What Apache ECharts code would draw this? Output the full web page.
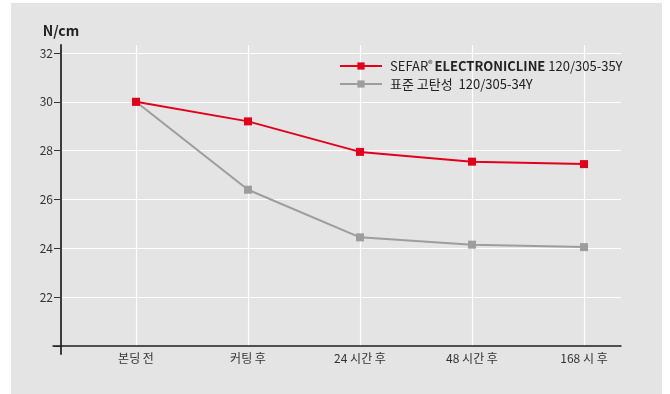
<!DOCTYPE html>
<html>
<head>
<meta charset="utf-8">
<script src="https://cdn.jsdelivr.net/npm/echarts@6/dist/echarts.min.js"></script>
<style>
  html, body { margin: 0; padding: 0; background: #ffffff; }
  #chart { width: 670px; height: 394px; }
</style>
</head>
<body>
<div id="chart"></div>
<script>
// Peel strength over time after bonding (N/cm)
const categories = ['본딩 전', '커팅 후', '24 시간 후', '48 시간 후', '168 시 후'];
const electroniclineValues = [30.0, 29.2, 27.95, 27.55, 27.45];
const standardValues = [30.0, 26.4, 24.45, 24.15, 24.05];
const seriesNames = ['SEFAR® ELECTRONICLINE 120/305-35Y', '표준 고탄성  120/305-34Y'];
const yTicks = { min: 20, max: 32, interval: 2 };

const FONT = '"Liberation Sans Narrow", "Noto Sans CJK KR", "Liberation Sans", sans-serif';
const TEXT = '#222222';
const RED = '#e3001b';
const GREY = '#9d9d9d';

const chart = echarts.init(document.getElementById('chart'), null, { renderer: 'canvas' });

// the y-axis top overshoots the 32 line by a few pixels; keep the same scale
const overshoot = 8 / ((346 - 53) / (yTicks.max - yTicks.min));

const option = {
  animation: false,
  textStyle: { fontFamily: FONT },
  graphic: [{
    type: 'rect', z: -10, silent: true,
    shape: { x: 11, y: 3, width: 651, height: 391 },
    style: { fill: '#e3e4e3' }
  }],
  grid: [
    // 0: vertical axis line
    { left: 61, right: 49, top: 45, bottom: 40 },
    // 1: horizontal axis line
    { left: 53, right: 49, top: 45, bottom: 48 },
    // 2: value labels, ticks, horizontal grid
    { left: 61, right: 49, top: 53, bottom: 48 },
    // 3: categories and series
    { left: 136, right: 86, top: 45, bottom: 48 }
  ],
  xAxis: [
    { gridIndex: 0, type: 'value', show: false },
    { gridIndex: 1, type: 'value', min: 0, max: 1,
      axisLine: { show: true, lineStyle: { color: '#1e1e1e', width: 1.5 } },
      axisTick: { show: false }, axisLabel: { show: false }, splitLine: { show: false }, z: 5 },
    { gridIndex: 2, type: 'value', show: false },
    { gridIndex: 3, type: 'category', data: categories, boundaryGap: false,
      axisLine: { show: false }, axisTick: { show: false },
      axisLabel: { margin: 6, fontSize: 12, color: '#333333', fontFamily: FONT },
      splitLine: { show: true, lineStyle: { color: '#ffffff', width: 1.2 } } }
  ],
  yAxis: [
    { gridIndex: 0, type: 'value', min: 0, max: 1,
      axisLine: { show: true, lineStyle: { color: '#3c3c3c', width: 2 } },
      axisTick: { show: false }, axisLabel: { show: false }, splitLine: { show: false }, z: 5 },
    { gridIndex: 1, type: 'value', show: false },
    { gridIndex: 2, type: 'value', min: yTicks.min, max: yTicks.max, interval: yTicks.interval,
      name: 'N/cm', nameLocation: 'end', nameGap: 15,
      nameTextStyle: { fontSize: 14, fontWeight: 'bold', color: TEXT, fontFamily: FONT, align: 'center' },
      axisLine: { show: false },
      axisTick: { show: true, length: 7, lineStyle: { color: '#333333', width: 1 } },
      axisLabel: { margin: 8, fontSize: 12, color: '#333333', fontFamily: FONT,
        formatter: v => (v === yTicks.min ? '' : String(v)) },
      splitLine: { show: true, showMinLine: false, lineStyle: { color: '#ffffff', width: 1 } } },
    { gridIndex: 3, type: 'value', min: yTicks.min, max: yTicks.max + overshoot, show: false }
  ],
  legend: {
    orient: 'vertical', left: 339, top: 59, padding: 0,
    itemWidth: 42, itemHeight: 9, itemGap: 5,
    data: seriesNames,
    textStyle: {
      fontSize: 13, color: TEXT, fontFamily: FONT,
      rich: {
        n: { fontSize: 13, color: TEXT, fontFamily: FONT, padding: [0, 0, 0, 3] },
        r: { fontSize: 9, color: TEXT, fontFamily: FONT, verticalAlign: 'top', padding: [0, 2, 5, 0] },
        b: { fontSize: 13, color: TEXT, fontFamily: FONT, fontWeight: 'bold' },
        t: { fontSize: 13, color: TEXT, fontFamily: FONT }
      }
    },
    formatter: name => name === seriesNames[0]
      ? '{n|SEFAR}{r|®}{b|ELECTRONICLINE}{t| 120/305-35Y}'
      : '{n|' + name + '}'
  },
  series: [
    { name: seriesNames[1], type: 'line', xAxisIndex: 3, yAxisIndex: 3, data: standardValues,
      symbol: 'rect', symbolSize: 8, color: GREY,
      lineStyle: { color: GREY, width: 2 }, itemStyle: { color: GREY }, z: 3 },
    { name: seriesNames[0], type: 'line', xAxisIndex: 3, yAxisIndex: 3, data: electroniclineValues,
      symbol: 'rect', symbolSize: 8, color: RED,
      lineStyle: { color: RED, width: 2 }, itemStyle: { color: RED }, z: 4 }
  ]
};

chart.setOption(option);
</script>
</body>
</html>
